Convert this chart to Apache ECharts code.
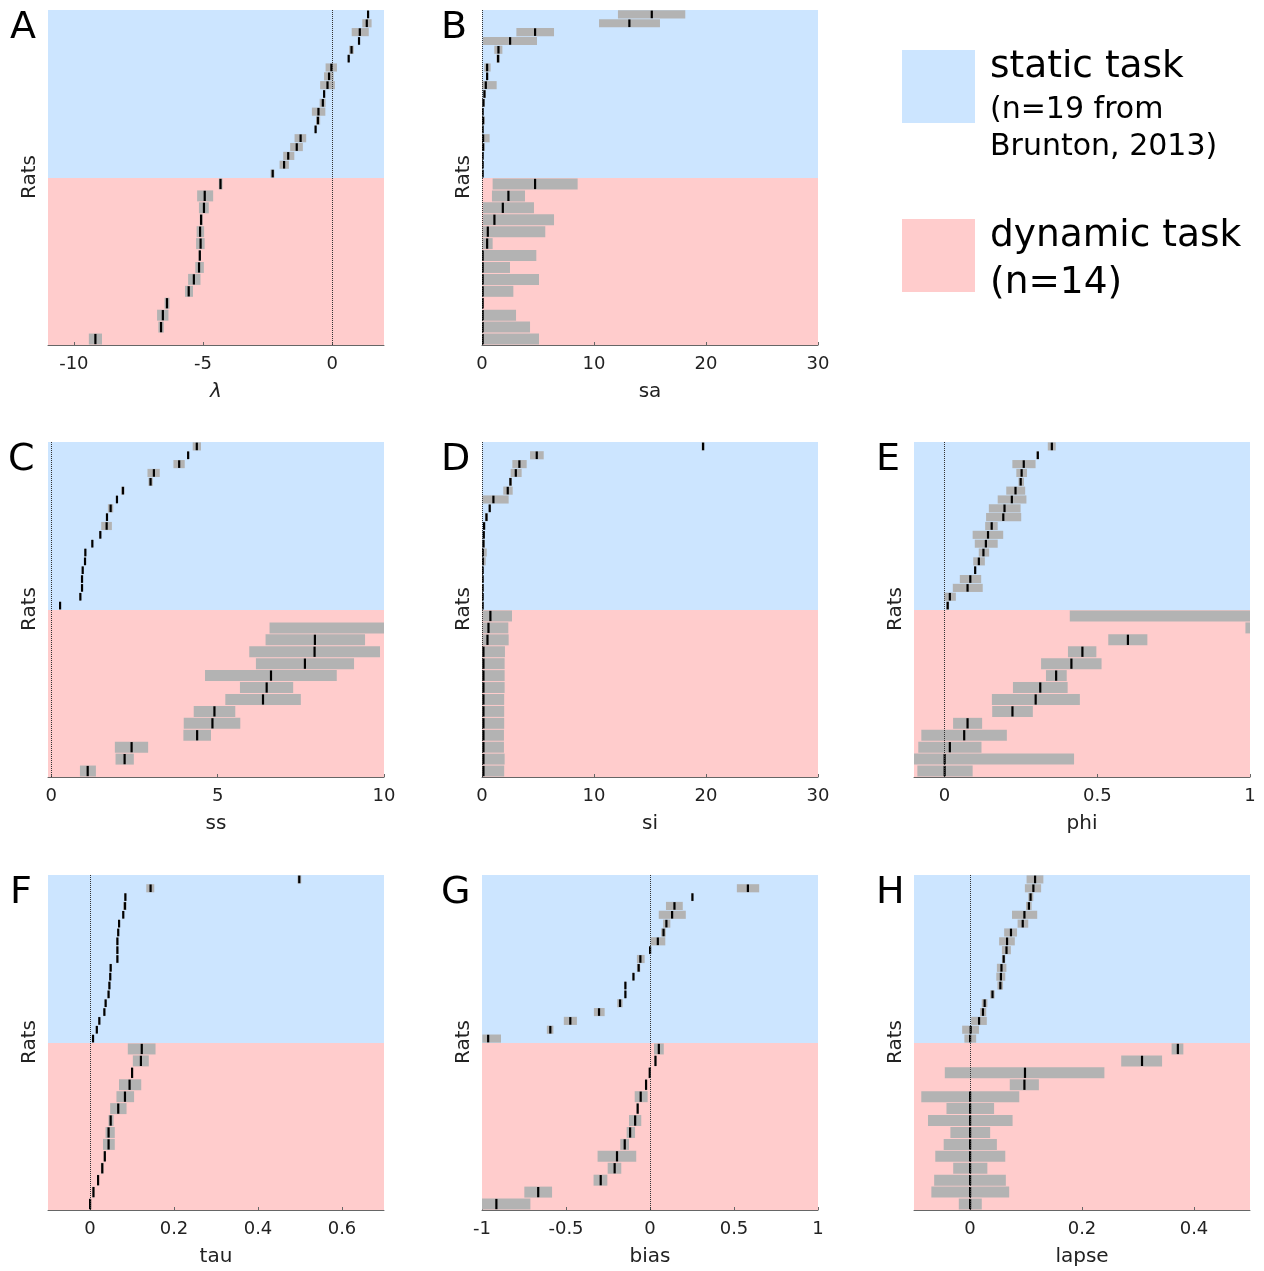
<!DOCTYPE html>
<html>
<head>
<meta charset="utf-8">
<script src="https://cdn.jsdelivr.net/npm/echarts@6/dist/echarts.min.js"></script>
<style>
  html, body { margin: 0; padding: 0; background: #ffffff; }
  #chart { width: 1264px; height: 1271px; }
</style>
</head>
<body>
<div id="chart"></div>
<script>
// Per-rat fits: each row is [lower bound, best fit, upper bound], listed top row first.
const lambdaStatic = [
  [1.34, 1.38, 1.42], [1.16, 1.33, 1.52], [0.75, 1.06, 1.41], [1.00, 1.03, 1.06],
  [0.65, 0.74, 0.83], [0.60, 0.63, 0.66], [-0.26, -0.04, 0.18], [-0.32, -0.13, 0.05],
  [-0.47, -0.19, 0.10], [-0.35, -0.32, -0.29], [-0.49, -0.37, -0.26], [-0.79, -0.54, -0.27],
  [-0.63, -0.56, -0.47], [-0.68, -0.65, -0.62], [-1.46, -1.23, -1.01], [-1.63, -1.38, -1.14],
  [-1.90, -1.71, -1.47], [-2.04, -1.87, -1.68], [-2.39, -2.31, -2.24]
];
const lambdaDynamic = [
  [-4.39, -4.33, -4.25], [-5.23, -4.94, -4.61], [-5.16, -4.97, -4.78], [-5.13, -5.08, -5.02],
  [-5.25, -5.12, -4.96], [-5.27, -5.10, -4.94], [-5.17, -5.13, -5.09], [-5.30, -5.16, -4.97],
  [-5.58, -5.36, -5.10], [-5.70, -5.56, -5.39], [-6.49, -6.40, -6.30], [-6.78, -6.56, -6.34],
  [-6.73, -6.63, -6.52], [-9.42, -9.17, -8.91]
];

const saStatic = [
  [12.14, 15.15, 18.15], [10.45, 13.15, 15.89], [3.07, 4.73, 6.43], [0.09, 2.50, 4.91],
  [1.10, 1.46, 1.82], [1.28, 1.43, 1.58], [0.21, 0.45, 0.77], [0.40, 0.45, 0.50],
  [0.00, 0.33, 1.31], [0.06, 0.21, 0.33], [0.00, 0.12, 0.24], [0.02, 0.05, 0.08],
  [0.00, 0.09, 0.24], [0.02, 0.05, 0.08], [0.00, 0.09, 0.68], [0.00, 0.09, 0.24],
  [0.02, 0.05, 0.08], [0.02, 0.05, 0.08], [0.02, 0.05, 0.08]
];
const saDynamic = [
  [0.95, 4.73, 8.54], [0.89, 2.35, 3.84], [0.09, 1.85, 4.64], [0.09, 1.10, 6.43],
  [0.03, 0.51, 5.65], [0.03, 0.45, 0.95], [0.03, 0.05, 4.85], [0.00, 0.05, 2.50],
  [0.00, 0.05, 5.09], [0.00, 0.05, 2.80], [0.02, 0.05, 0.08], [0.00, 0.05, 3.04],
  [0.00, 0.05, 4.29], [0.00, 0.05, 5.09]
];

const ssStatic = [
  [4.25, 4.37, 4.50], [4.08, 4.11, 4.14], [3.67, 3.84, 4.01], [2.89, 3.08, 3.26],
  [2.92, 2.98, 3.05], [2.10, 2.15, 2.20], [1.95, 1.97, 1.99], [1.70, 1.78, 1.86],
  [1.65, 1.67, 1.69], [1.50, 1.66, 1.82], [1.45, 1.47, 1.49], [1.21, 1.23, 1.25],
  [1.00, 1.02, 1.04], [0.99, 1.01, 1.03], [0.92, 0.94, 0.96], [0.90, 0.92, 0.94],
  [0.90, 0.92, 0.94], [0.85, 0.87, 0.89], [0.24, 0.26, 0.28]
];
const ssDynamic = [
  [10.60, 12.00, 14.00], [6.56, 10.40, 12.50], [6.44, 7.92, 9.43], [5.95, 7.91, 9.88],
  [6.15, 7.62, 9.10], [4.62, 6.60, 8.58], [5.67, 6.47, 7.27], [5.23, 6.36, 7.50],
  [4.28, 4.90, 5.53], [3.98, 4.84, 5.68], [3.97, 4.38, 4.80], [1.91, 2.41, 2.91],
  [1.93, 2.20, 2.48], [0.86, 1.09, 1.34]
];

const siStatic = [
  [19.60, 19.73, 19.86], [4.29, 4.88, 5.51], [2.71, 3.33, 3.99], [2.56, 3.01, 3.54],
  [2.41, 2.53, 2.68], [1.90, 2.29, 2.74], [0.03, 1.01, 2.38], [0.60, 0.68, 0.76],
  [0.27, 0.39, 0.51], [0.12, 0.18, 0.24], [0.10, 0.15, 0.20], [0.05, 0.12, 0.25],
  [0.00, 0.06, 0.42], [0.00, 0.06, 0.33], [0.02, 0.05, 0.08], [0.02, 0.05, 0.08],
  [0.02, 0.05, 0.08], [0.02, 0.05, 0.08], [0.02, 0.05, 0.08]
];
const siDynamic = [
  [0.03, 0.74, 2.68], [0.03, 0.57, 2.35], [0.03, 0.48, 2.38], [0.03, 0.12, 2.05],
  [0.03, 0.12, 2.02], [0.03, 0.12, 2.02], [0.03, 0.12, 2.02], [0.03, 0.12, 1.98],
  [0.03, 0.12, 1.98], [0.03, 0.12, 1.98], [0.03, 0.12, 1.96], [0.03, 0.12, 1.96],
  [0.03, 0.12, 2.02], [0.03, 0.12, 1.98]
];

const phiStatic = [
  [0.338, 0.351, 0.364], [0.301, 0.305, 0.309], [0.222, 0.259, 0.298], [0.235, 0.252, 0.270],
  [0.242, 0.249, 0.260], [0.202, 0.232, 0.264], [0.174, 0.220, 0.268], [0.145, 0.196, 0.249],
  [0.136, 0.192, 0.251], [0.133, 0.154, 0.174], [0.092, 0.142, 0.192], [0.099, 0.135, 0.174],
  [0.112, 0.127, 0.146], [0.094, 0.112, 0.132], [0.097, 0.100, 0.103], [0.050, 0.084, 0.120],
  [0.027, 0.075, 0.125], [-0.001, 0.017, 0.037], [0.005, 0.010, 0.015]
];
const phiDynamic = [
  [0.410, 1.300, 2.200], [0.985, 1.600, 2.400], [0.536, 0.600, 0.664], [0.404, 0.451, 0.497],
  [0.316, 0.415, 0.514], [0.332, 0.365, 0.400], [0.224, 0.313, 0.403], [0.155, 0.298, 0.443],
  [0.156, 0.222, 0.289], [0.028, 0.075, 0.123], [-0.076, 0.064, 0.204], [-0.086, 0.017, 0.121],
  [-0.100, 0.000, 0.424], [-0.089, 0.000, 0.092]
];

const tauStatic = [
  [0.494, 0.498, 0.503], [0.134, 0.144, 0.153], [0.082, 0.084, 0.086], [0.079, 0.083, 0.087],
  [0.077, 0.079, 0.081], [0.067, 0.069, 0.071], [0.065, 0.067, 0.069], [0.063, 0.065, 0.067],
  [0.063, 0.065, 0.067], [0.063, 0.065, 0.067], [0.047, 0.049, 0.051], [0.046, 0.048, 0.050],
  [0.044, 0.046, 0.048], [0.042, 0.044, 0.046], [0.035, 0.037, 0.039], [0.032, 0.034, 0.036],
  [0.020, 0.022, 0.024], [0.014, 0.016, 0.018], [0.005, 0.007, 0.009]
];
const tauDynamic = [
  [0.090, 0.123, 0.156], [0.102, 0.121, 0.140], [0.098, 0.100, 0.102], [0.069, 0.094, 0.122],
  [0.063, 0.083, 0.105], [0.048, 0.067, 0.087], [0.044, 0.049, 0.056], [0.037, 0.044, 0.059],
  [0.031, 0.044, 0.059], [0.033, 0.035, 0.037], [0.026, 0.029, 0.032], [0.017, 0.019, 0.021],
  [0.006, 0.008, 0.010], [-0.002, 0.000, 0.002]
];

const biasStatic = [
  [1.100, 1.300, 1.500], [0.517, 0.582, 0.650], [0.247, 0.252, 0.257], [0.095, 0.145, 0.195],
  [0.052, 0.131, 0.213], [0.078, 0.097, 0.121], [0.066, 0.080, 0.094], [0.004, 0.046, 0.091],
  [-0.005, 0.000, 0.005], [-0.078, -0.058, -0.032], [-0.078, -0.068, -0.058], [-0.104, -0.099, -0.094],
  [-0.152, -0.147, -0.142], [-0.152, -0.147, -0.142], [-0.195, -0.179, -0.163], [-0.334, -0.304, -0.270],
  [-0.513, -0.475, -0.435], [-0.614, -0.594, -0.575], [-0.998, -0.964, -0.887]
];
const biasDynamic = [
  [0.024, 0.052, 0.082], [0.027, 0.032, 0.037], [-0.007, -0.002, 0.003], [-0.029, -0.024, -0.019],
  [-0.091, -0.056, -0.014], [-0.079, -0.074, -0.069], [-0.125, -0.089, -0.052], [-0.139, -0.119, -0.089],
  [-0.177, -0.151, -0.125], [-0.312, -0.197, -0.082], [-0.252, -0.211, -0.171], [-0.336, -0.294, -0.254],
  [-0.748, -0.666, -0.583], [-1.004, -0.915, -0.712]
];

const lapseStatic = [
  [0.101, 0.116, 0.131], [0.098, 0.113, 0.127], [0.104, 0.108, 0.113], [0.100, 0.105, 0.110],
  [0.075, 0.097, 0.120], [0.085, 0.094, 0.104], [0.061, 0.073, 0.084], [0.052, 0.066, 0.080],
  [0.057, 0.065, 0.073], [0.057, 0.060, 0.063], [0.048, 0.056, 0.065], [0.047, 0.055, 0.063],
  [0.049, 0.054, 0.059], [0.036, 0.040, 0.044], [0.021, 0.026, 0.031], [0.018, 0.023, 0.029],
  [0.002, 0.016, 0.030], [-0.014, 0.001, 0.016], [-0.010, 0.000, 0.011]
];
const lapseDynamic = [
  [0.360, 0.371, 0.381], [0.270, 0.307, 0.343], [-0.045, 0.098, 0.240], [0.071, 0.097, 0.123],
  [-0.087, 0.000, 0.088], [-0.042, 0.000, 0.043], [-0.075, 0.000, 0.076], [-0.035, 0.000, 0.036],
  [-0.047, 0.000, 0.048], [-0.062, 0.000, 0.063], [-0.030, 0.000, 0.031], [-0.064, 0.000, 0.064],
  [-0.069, 0.000, 0.070], [-0.020, 0.000, 0.021]
];

// Tick labels of each parameter axis
const lambdaTicks = [-10, -5, 0];
const saTicks = [0, 10, 20, 30];
const ssTicks = [0, 5, 10];
const siTicks = [0, 10, 20, 30];
const phiTicks = [0, 0.5, 1];
const tauTicks = [0, 0.2, 0.4, 0.6];
const biasTicks = [-1, -0.5, 0, 0.5, 1];
const lapseTicks = [0, 0.2, 0.4];

const panels = [
  { letter: 'A', letterX: 10, name: 'λ', italic: true, min: -11, max: 2, ticks: lambdaTicks, stat: lambdaStatic, dyn: lambdaDynamic, col: 0, row: 0 },
  { letter: 'B', letterX: 441, name: 'sa', min: 0, max: 30, ticks: saTicks, stat: saStatic, dyn: saDynamic, col: 1, row: 0 },
  { letter: 'C', letterX: 8, name: 'ss', min: -0.1, max: 10, ticks: ssTicks, stat: ssStatic, dyn: ssDynamic, col: 0, row: 1 },
  { letter: 'D', letterX: 441, name: 'si', min: 0, max: 30, ticks: siTicks, stat: siStatic, dyn: siDynamic, col: 1, row: 1 },
  { letter: 'E', letterX: 876, name: 'phi', min: -0.1, max: 1, ticks: phiTicks, stat: phiStatic, dyn: phiDynamic, col: 2, row: 1 },
  { letter: 'F', letterX: 10, name: 'tau', min: -0.1, max: 0.7, ticks: tauTicks, stat: tauStatic, dyn: tauDynamic, col: 0, row: 2 },
  { letter: 'G', letterX: 441, name: 'bias', min: -1, max: 1, ticks: biasTicks, stat: biasStatic, dyn: biasDynamic, col: 1, row: 2 },
  { letter: 'H', letterX: 876, name: 'lapse', min: -0.1, max: 0.5, ticks: lapseTicks, stat: lapseStatic, dyn: lapseDynamic, col: 2, row: 2 }
];

const BLUE = '#cce5ff';
const PINK = '#ffcccc';
const GREY = '#b3b3b3';
const FONT = '"DejaVu Sans", sans-serif';

const colLeft = [48, 482, 914];
const rowTop = [10, 442, 875];
const panelW = 336;
const topH = 168;
const bottomH = 167;

// Grey interval bar plus a black tick at the best fit, clipped to the panel.
function renderRow(params, api) {
  const row = api.value(3);
  const pLo = api.coord([api.value(0), row]);
  const pHi = api.coord([api.value(1), row]);
  const pMid = api.coord([api.value(2), row]);
  const rowH = Math.abs(api.size([0, 1])[1]);
  const cs = params.coordSys;
  const area = { x: cs.x, y: cs.y, width: cs.width, height: cs.height };
  const children = [];
  const bar = echarts.graphic.clipRectByRect({
    x: pLo[0], y: pLo[1] - rowH * 0.46, width: pHi[0] - pLo[0], height: rowH * 0.92
  }, area);
  if (bar && bar.width > 0) {
    children.push({ type: 'rect', shape: bar, style: { fill: GREY } });
  }
  const tick = echarts.graphic.clipRectByRect({
    x: pMid[0] - 1, y: pMid[1] - rowH * 0.43, width: 2.2, height: rowH * 0.86
  }, area);
  if (tick && tick.width > 1) {
    children.push({ type: 'rect', shape: tick, style: { fill: '#000000' } });
  }
  return { type: 'group', children: children };
}

const grids = [], xAxes = [], yAxes = [], series = [], graphics = [];

panels.forEach(function (p) {
  const left = colLeft[p.col];
  const top = rowTop[p.row];
  const halves = [
    { rows: p.stat, bg: BLUE, top: top, h: topH, bottom: false },
    { rows: p.dyn, bg: PINK, top: top + topH, h: bottomH, bottom: true }
  ];
  halves.forEach(function (half) {
    const gi = grids.length;
    grids.push({
      left: left, top: half.top, width: panelW, height: half.h,
      show: true, backgroundColor: half.bg, borderWidth: 0
    });
    xAxes.push({
      gridIndex: gi, type: 'value', min: p.min, max: p.max, show: half.bottom,
      position: 'bottom',
      splitLine: { show: false },
      axisLine: { show: true, onZero: false, lineStyle: { color: '#666666', width: 1 } },
      axisTick: { show: true, inside: true, length: 3, customValues: p.ticks, lineStyle: { color: '#666666' } },
      axisLabel: {
        customValues: p.ticks, showMinLabel: true, showMaxLabel: true,
        fontSize: 18, color: '#222222', margin: 10, fontFamily: FONT
      },
      name: p.name, nameLocation: 'middle', nameGap: 37,
      nameTextStyle: { fontSize: 20, color: '#222222', fontFamily: FONT, fontStyle: p.italic ? 'italic' : 'normal' }
    });
    yAxes.push({
      gridIndex: gi, type: 'value', min: -0.5, max: half.rows.length - 0.5,
      inverse: true, show: false, splitLine: { show: false }
    });
    series.push({
      type: 'custom', xAxisIndex: gi, yAxisIndex: gi, silent: true, animation: false,
      renderItem: renderRow,
      encode: { x: [0, 1, 2], y: 3 },
      data: half.rows.map(function (r, j) { return [r[0], r[2], r[1], j]; }),
      markLine: {
        silent: true, symbol: 'none', animation: false,
        label: { show: false },
        lineStyle: { type: 'dotted', color: '#333333', width: 1 },
        data: [{ xAxis: 0 }]
      }
    });
  });

  // Panel letter
  graphics.push({
    type: 'text', left: p.letterX, top: top - 1,
    style: { text: p.letter, fontSize: 38, fontFamily: FONT, fill: '#000000' }
  });
  // Rotated y-axis title
  graphics.push({
    type: 'text', x: left - 18, y: top + topH - 1, rotation: Math.PI / 2,
    style: { text: 'Rats', fontSize: 20, fontFamily: FONT, fill: '#222222', align: 'center', verticalAlign: 'middle' }
  });
});

// Legend block
graphics.push(
  { type: 'rect', shape: { x: 902, y: 50, width: 73, height: 73 }, style: { fill: BLUE } },
  { type: 'rect', shape: { x: 902, y: 219, width: 73, height: 73 }, style: { fill: PINK } },
  { type: 'text', x: 990, y: 67, style: { text: 'static task', fontSize: 37.5, fontFamily: FONT, fill: '#000000', verticalAlign: 'middle' } },
  { type: 'text', x: 990, y: 110, style: { text: '(n=19 from', fontSize: 30, fontFamily: FONT, fill: '#000000', verticalAlign: 'middle' } },
  { type: 'text', x: 990, y: 147, style: { text: 'Brunton, 2013)', fontSize: 30, fontFamily: FONT, fill: '#000000', verticalAlign: 'middle' } },
  { type: 'text', x: 990, y: 236, style: { text: 'dynamic task', fontSize: 37.5, fontFamily: FONT, fill: '#000000', verticalAlign: 'middle' } },
  { type: 'text', x: 990, y: 283, style: { text: '(n=14)', fontSize: 37.5, fontFamily: FONT, fill: '#000000', verticalAlign: 'middle' } }
);

const chart = echarts.init(document.getElementById('chart'), null, { renderer: 'canvas' });
chart.setOption({
  animation: false,
  backgroundColor: '#ffffff',
  textStyle: { fontFamily: FONT },
  grid: grids,
  xAxis: xAxes,
  yAxis: yAxes,
  series: series,
  graphic: graphics
});
</script>
</body>
</html>
